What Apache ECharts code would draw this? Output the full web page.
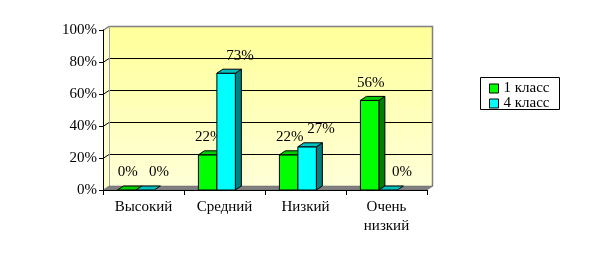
<!DOCTYPE html>
<html>
<head>
<meta charset="utf-8">
<script src="https://cdn.jsdelivr.net/npm/echarts@6/dist/echarts.min.js"></script>
<style>
html,body{margin:0;padding:0;background:#fff;}
#c{width:595px;height:259px;}
</style>
</head>
<body>
<div id="c"></div>
<script>
const categories = ['Высокий', 'Средний', 'Низкий', 'Очень низкий'];
const seriesNames = ['1 класс', '4 класс'];
const class1 = [0, 22, 22, 56];
const class4 = [0, 73, 27, 0];
const yTicks = [0, 20, 40, 60, 80, 100];

const FONT = '"Liberation Serif", "Times New Roman", serif';
const DX = 6, DY = 4;
const palettes = [
  {front: '#00FF00', top: '#00CC00', side: '#008000'},
  {front: '#00FFFF', top: '#00C0C0', side: '#008080'}
];
const labelOffset = [1, 14];

const chart = echarts.init(document.getElementById('c'), null, {renderer: 'canvas'});

function wallRender(params, api) {
  const cs = params.coordSys;
  const x = cs.x, y = cs.y, w = cs.width, h = cs.height;
  const b = y + h;
  const children = [];
  children.push({type: 'rect', shape: {x: x + DX, y: y - DY, width: w, height: h},
    style: {fill: new echarts.graphic.LinearGradient(0, 0, 0, 1, [
      {offset: 0, color: '#FFFF99'}, {offset: 1, color: '#FFFFD8'}]), stroke: null}});
  children.push({type: 'polygon', shape: {points: [[x, y], [x + DX, y - DY], [x + DX, b - DY], [x, b]]},
    style: {fill: '#FFFFCC', stroke: null}});
  yTicks.forEach(function (t) {
    if (t === 0 || t === yTicks[yTicks.length - 1]) return;
    const py = Math.round(api.coord([0, t])[1]) + 0.5;
    children.push({type: 'polyline', shape: {points: [[x, py], [x + DX, py - DY], [x + w + DX, py - DY]]},
      style: {stroke: '#000', lineWidth: 1, fill: null}});
  });
  children.push({type: 'polyline', shape: {points: [[x, y + 0.5], [x + DX, y - DY + 0.5], [x + w + DX - 0.5, y - DY + 0.5], [x + w + DX - 0.5, b - DY]]},
    style: {stroke: '#808080', lineWidth: 1.5, fill: null}});
  children.push({type: 'line', shape: {x1: x + DX + 0.5, y1: y - DY, x2: x + DX + 0.5, y2: b - DY},
    style: {stroke: '#A0A0A0', lineWidth: 1}});
  children.push({type: 'polygon', shape: {points: [[x, b], [x + DX, b - DY], [x + w + DX, b - DY], [x + w, b]]},
    style: {fill: '#808080', stroke: '#606060', lineWidth: 0.5}});
  return {type: 'group', children: children};
}

function barRender(sIdx) {
  return function (params, api) {
    const ci = api.value(0), v = api.value(1);
    const base = api.coord([ci, 0]);
    const top = api.coord([ci, v]);
    const cw = api.size([1, 0])[0];
    const bw = cw * 0.228;
    const x0 = base[0] - cw / 2 + cw * 0.178 + sIdx * bw;
    const ty = top[1], by = base[1];
    const pal = palettes[sIdx];
    const stroke = {stroke: '#000', lineWidth: 1, lineJoin: 'round'};
    const children = [];
    if (v > 0) {
      children.push({type: 'polygon', shape: {points: [[x0 + bw, ty], [x0 + bw + DX, ty - DY], [x0 + bw + DX, by - DY], [x0 + bw, by]]},
        style: Object.assign({fill: pal.side}, stroke)});
      children.push({type: 'rect', shape: {x: x0, y: ty, width: bw, height: by - ty},
        style: Object.assign({fill: pal.front}, stroke)});
    }
    children.push({type: 'polygon', shape: {points: [[x0, ty], [x0 + DX, ty - DY], [x0 + bw + DX, ty - DY], [x0 + bw, ty]]},
      style: Object.assign({fill: pal.top}, stroke)});
    children.push({type: 'text', z2: 100, style: {text: v + '%', x: x0 + bw / 2 + labelOffset[sIdx], y: ty - 10,
      align: 'center', verticalAlign: 'bottom', fontSize: 15, fontFamily: FONT, fill: '#000'}});
    return {type: 'group', children: children};
  };
}

const option = {
  backgroundColor: '#ffffff',
  animation: false,
  color: [palettes[0].front, palettes[1].front],
  grid: {left: 103, right: 168, top: 30, bottom: 69, containLabel: false, outerBoundsMode: 'none'},
  xAxis: {
    type: 'category', data: categories,
    axisLine: {show: true, lineStyle: {color: '#000', width: 1}},
    axisTick: {show: true, length: 5, lineStyle: {color: '#000'}},
    axisLabel: {interval: 0, margin: 8, fontSize: 15, fontFamily: FONT, color: '#000', lineHeight: 19,
      hideOverlap: false, formatter: function (s) { return s.replace(' ', '\n'); }},
    splitLine: {show: false}
  },
  yAxis: {
    type: 'value', min: 0, max: 100, interval: 20,
    axisLine: {show: true, lineStyle: {color: '#000', width: 1}},
    axisTick: {show: true, length: 4, inside: false, lineStyle: {color: '#000'}},
    axisLabel: {formatter: '{value}%', margin: 6, fontSize: 15, fontFamily: FONT, color: '#000'},
    splitLine: {show: false}
  },
  legend: {
    orient: 'vertical', left: 489, top: 81, padding: 0, itemGap: 0,
    data: seriesNames, icon: 'rect', itemWidth: 9, itemHeight: 9,
    itemStyle: {borderColor: '#000', borderWidth: 1},
    textStyle: {fontSize: 15, fontFamily: FONT, color: '#000', lineHeight: 14}
  },
  graphic: [{type: 'rect', left: 478, top: 75, z: 100, silent: true,
    shape: {width: 79, height: 32}, style: {fill: null, stroke: '#000', lineWidth: 1}}],
  series: [
    {type: 'custom', name: 'wall', silent: true, z: 0, renderItem: wallRender, data: [[0, 0]], encode: {x: 0, y: 1}},
    {type: 'custom', name: seriesNames[0], z: 2, renderItem: barRender(0), itemStyle: {color: palettes[0].front},
      data: class1.map(function (v, i) { return [i, v]; }), encode: {x: 0, y: 1}},
    {type: 'custom', name: seriesNames[1], z: 3, renderItem: barRender(1), itemStyle: {color: palettes[1].front},
      data: class4.map(function (v, i) { return [i, v]; }), encode: {x: 0, y: 1}}
  ]
};
chart.setOption(option);
</script>
</body>
</html>
